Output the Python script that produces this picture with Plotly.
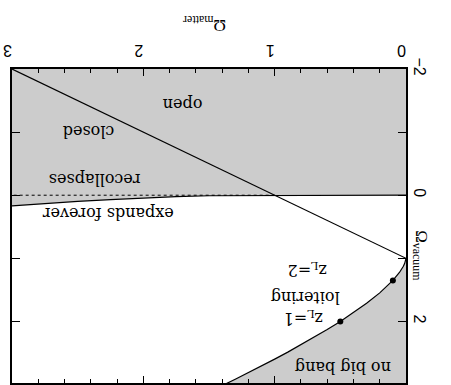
import plotly.graph_objects as go

# Flat universe line: Omega_matter + Omega_vacuum = 1
flat_m = [0.0, 3.0]
flat_v = [1.0, -2.0]

# Boundary between eventual recollapse and expansion forever
recollapse_m = [0.0, 1.0, 1.25, 1.5, 1.75, 2.0, 2.25, 2.5, 2.75, 3.0]
recollapse_v = [0.0, 0.0, 0.0015, 0.0087, 0.0223, 0.0419, 0.0700, 0.0965, 0.1299, 0.1677]

# Boundary of the "no big bang" (loitering) region
loiter_m = [0.0, 0.002, 0.005, 0.01, 0.02, 0.05, 0.1, 0.15, 0.2, 0.3, 0.4, 0.5,
            0.6, 0.7, 0.8, 0.9, 1.0, 1.1, 1.2, 1.3, 1.4]
loiter_v = [1.0, 1.028, 1.051, 1.080, 1.125, 1.2245, 1.35, 1.4545, 1.5477, 1.7135,
            1.8621, 2.0, 2.1297, 2.2533, 2.372, 2.4869, 2.5981, 2.7068, 2.812,
            2.9158, 3.018]

# Loitering redshift markers
zl_m = [0.5, 0.1]
zl_v = [2.0, 1.35]

# Region labels
label_text = ["open", "closed", "recollapses", "expands forever",
              "z<sub>L</sub>=2", "loitering", "z<sub>L</sub>=1", "no big bang"]
label_m = [1.70, 2.42, 2.37, 2.27, 0.75, 0.77, 0.78, 0.48]
label_v = [-1.44, -1.00, -0.26, 0.30, 1.18, 1.61, 1.93, 2.72]

# Axis ticks
x_ticks = [0, 1, 2, 3]
y_ticks = [-2, -1, 0, 1, 2]
y_ticktext = ["\u22122", "", "0", "", "2"]

GRAY = "#cccccc"
SERIF = "DejaVu Serif"
SANS = "Liberation Sans"

fig = go.Figure()

# shaded: recollapsing universes
fig.add_trace(go.Scatter(
    x=[0.0] + recollapse_m + [3.0, 0.0],
    y=[-2.5] + recollapse_v + [-2.5, -2.5],
    fill="toself", fillcolor=GRAY, mode="none", hoverinfo="skip", showlegend=False))

# shaded: no big bang
fig.add_trace(go.Scatter(
    x=loiter_m + [loiter_m[-1], 0.0, 0.0],
    y=loiter_v + [3.5, 3.5, loiter_v[0]],
    fill="toself", fillcolor=GRAY, mode="none", hoverinfo="skip", showlegend=False))

# dotted Omega_vacuum = 0 line where it departs from the recollapse boundary
fig.add_trace(go.Scatter(x=[1.0, 3.0], y=[0.0, 0.0], mode="lines",
                         line=dict(color="black", width=1, dash="dot"),
                         hoverinfo="skip", showlegend=False))

for xs, ys in [(flat_m, flat_v), (recollapse_m, recollapse_v), (loiter_m, loiter_v)]:
    fig.add_trace(go.Scatter(x=xs, y=ys, mode="lines",
                             line=dict(color="black", width=1.2),
                             hoverinfo="skip", showlegend=False))

fig.add_trace(go.Scatter(x=zl_m, y=zl_v, mode="markers",
                         marker=dict(color="black", size=6),
                         hoverinfo="skip", showlegend=False))

for t, xm, yv in zip(label_text, label_m, label_v):
    fig.add_annotation(x=xm, y=yv, text=t, showarrow=False, textangle=180,
                       font=dict(family=SERIF, size=16, color="black"))

# axis titles
fig.add_annotation(xref="paper", yref="paper", x=0.49, y=1.0, yshift=58,
                   text="\u03a9<sub>matter</sub>", showarrow=False, textangle=180,
                   font=dict(family="Liberation Serif", size=17, color="black"))
fig.add_annotation(xref="paper", yref="y", x=1.0, xshift=27, y=0.95,
                   text="\u03a9<sub>vacuum</sub>", showarrow=False, textangle=90,
                   font=dict(family="Liberation Serif", size=17, color="black"))

fig.update_xaxes(
    range=[3.0, 0.0], side="top", tickvals=x_ticks, tickangle=180,
    ticks="inside", ticklen=7, tickwidth=1, tickcolor="black",
    minor=dict(dtick=0.2, ticks="inside", ticklen=4, tickwidth=1, tickcolor="black"),
    showline=True, linecolor="black", linewidth=1.5, mirror="ticks",
    showgrid=False, zeroline=False,
    tickfont=dict(family=SANS, size=16, color="black"))
fig.update_yaxes(
    range=[2.976, -2.0], side="right", tickvals=y_ticks, ticktext=y_ticktext,
    tickangle=90, ticks="inside", ticklen=8, tickwidth=1, tickcolor="black",
    showline=True, linecolor="black", linewidth=1.5, mirror="ticks",
    showgrid=False, zeroline=False,
    tickfont=dict(family=SANS, size=16, color="black"))

fig.update_layout(
    width=451, height=385,
    margin=dict(l=12, r=45, t=69, b=0),
    plot_bgcolor="white", paper_bgcolor="white",
    showlegend=False)

fig.write_html("out.html")
